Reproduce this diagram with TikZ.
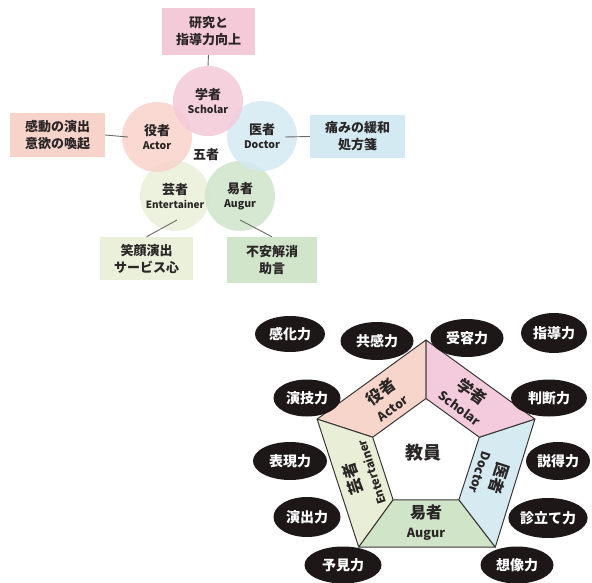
\documentclass[tikz,border=0pt]{standalone}
\usepackage{fontspec}
\setmainfont{Noto Sans CJK JP}
\usetikzlibrary{shapes.geometric}
\definecolor{cS}{HTML}{F4C9D8}
\definecolor{cA}{HTML}{F8D3CA}
\definecolor{cD}{HTML}{D4EAF3}
\definecolor{cE}{HTML}{EBF0DA}
\definecolor{cG}{HTML}{D1E5CB}
\definecolor{pS}{HTML}{F3CBDC}
\definecolor{pA}{HTML}{F8D5CB}
\definecolor{pD}{HTML}{D6EAF2}
\definecolor{pE}{HTML}{E9EED6}
\definecolor{pG}{HTML}{D0E4C8}
\definecolor{txt}{HTML}{2A2626}
\definecolor{linegray}{HTML}{6E6A6A}
\definecolor{blobfill}{HTML}{1E1718}
\definecolor{edge}{HTML}{3A3636}
\begin{document}
\begin{tikzpicture}[x=1pt,y=-1pt,
  topbox/.style={rectangle, inner sep=0pt, align=center, text=txt,
    font=\bfseries\fontsize{13}{17}\selectfont},
  ring/.style={circle, minimum size=70pt, inner sep=0pt, align=center,
    fill opacity=0.85, text opacity=1, text=txt,
    font=\bfseries\fontsize{13}{14.5}\selectfont},
  link/.style={draw=linegray, line width=0.9pt},
  blob/.style={ellipse, fill=blobfill, inner sep=0pt, text=white,
    font=\bfseries\fontsize{14}{14}\selectfont},
  seg/.style={draw=edge, line width=1pt, line join=round},
  plabel/.style={align=center, inner sep=0pt, text=txt,
    font=\bfseries\fontsize{16}{19}\selectfont},
]
\useasboundingbox (0,0) rectangle (592,583);
\fill[white] (0,0) rectangle (592,583);

% ---------- top diagram ----------
\node[topbox, fill=cS, minimum width=93pt, minimum height=47pt] (bs) at (208.5,31.5) {研究と\\指導力向上};
\node[topbox, fill=cA, minimum width=95pt, minimum height=44pt] (ba) at (57.5,135) {感動の演出\\意欲の喚起};
\node[topbox, fill=cD, minimum width=95pt, minimum height=43pt] (bd) at (357.5,136.5) {痛みの緩和\\処方箋};
\node[topbox, fill=cE, minimum width=93pt, minimum height=43pt] (be) at (146.5,258.5) {笑顔演出\\サービス心};
\node[topbox, fill=cG, minimum width=90pt, minimum height=46pt] (bg) at (272,260) {不安解消\\助言};

\coordinate (ce) at (177,220);
\coordinate (cg) at (240,220);
\coordinate (ca) at (128,137);
\coordinate (cd) at (285,137);

\node[ring, fill=cE] (ent) at (175,196) {芸者\\{\fontsize{10}{10}\selectfont Entertainer}};
\node[ring, fill=cG] (aug) at (240,196) {易者\\{\fontsize{10.5}{10}\selectfont Augur}};
\node[ring, fill=cA] (act) at (157,137) {役者\\{\fontsize{10.5}{10}\selectfont Actor}};
\node[ring, fill=cD] (doc) at (262,136) {医者\\{\fontsize{10.5}{10}\selectfont Doctor}};
\node[ring, fill=cS] (sch) at (208,101) {学者\\{\fontsize{10.5}{10}\selectfont Scholar}};
\node[text=txt, font=\bfseries\fontsize{13}{13}\selectfont, inner sep=0pt] (five) at (206,155) {五者};

\draw[link] (bs.south) -- (sch.north);
\draw[link] (ba.east) -- (ca);
\draw[link] (cd) -- (bd.west);
\draw[link] (be.north) -- (ce);
\draw[link] (bg.north) -- (cg);

% ---------- bottom diagram ----------
\coordinate (O1) at (426,340);
\coordinate (O2) at (317.1,419.1);
\coordinate (O3) at (358.7,547.1);
\coordinate (O4) at (495.3,547.1);
\coordinate (O5) at (534.9,419.1);
\coordinate (I1) at (426,398.5);
\coordinate (I2) at (372.7,437.2);
\coordinate (I3) at (393.1,499.8);
\coordinate (I4) at (458.9,499.8);
\coordinate (I5) at (479.3,437.2);

\filldraw[seg, fill=pA] (O1) -- (O2) -- (I2) -- (I1) -- cycle;
\filldraw[seg, fill=pE] (O2) -- (O3) -- (I3) -- (I2) -- cycle;
\filldraw[seg, fill=pG] (O3) -- (O4) -- (I4) -- (I3) -- cycle;
\filldraw[seg, fill=pD] (O4) -- (O5) -- (I5) -- (I4) -- cycle;
\filldraw[seg, fill=pS] (O5) -- (O1) -- (I1) -- (I5) -- cycle;

\node[plabel, rotate=36] (lA) at (386,399) {役者\\{\fontsize{12.5}{12}\selectfont Actor}};
\node[plabel, rotate=-36] (lS) at (466.6,399) {学者\\{\fontsize{12.5}{12}\selectfont Scholar}};
\node[plabel, rotate=-108] (lD) at (491,476) {医者\\{\fontsize{12.5}{12}\selectfont Doctor}};
\node[plabel, rotate=108] (lE) at (361,476) {芸者\\{\fontsize{11.5}{12}\selectfont Entertainer}};
\node[plabel] (lG) at (426,523) {易者\\{\fontsize{12.5}{12}\selectfont Augur}};
\node[plabel, font=\bfseries\fontsize{18}{18}\selectfont] (core) at (423,453) {教員};

\node[blob, minimum width=70pt, minimum height=36pt] (e1) at (290,334) {感化力};
\node[blob, minimum width=73pt, minimum height=38pt] (e2) at (377,341) {共感力};
\node[blob, minimum width=73pt, minimum height=38pt] (e3) at (467,338) {受容力};
\node[blob, minimum width=66pt, minimum height=40pt] (e4) at (554,333) {指導力};
\node[blob, minimum width=67pt, minimum height=37pt] (e5) at (307,398) {演技力};
\node[blob, minimum width=76pt, minimum height=37pt] (e6) at (549,398) {判断力};
\node[blob, minimum width=74pt, minimum height=38pt] (e7) at (290,461) {表現力};
\node[blob, minimum width=64pt, minimum height=38pt] (e8) at (558,461) {説得力};
\node[blob, minimum width=67pt, minimum height=40pt] (e9) at (307,517) {演出力};
\node[blob, minimum width=79pt, minimum height=40pt] (e10) at (548,518) {診立て力};
\node[blob, minimum width=77pt, minimum height=37pt] (e11) at (343,565) {予見力};
\node[blob, minimum width=73pt, minimum height=37pt] (e12) at (517,565) {想像力};
\end{tikzpicture}
\end{document}
